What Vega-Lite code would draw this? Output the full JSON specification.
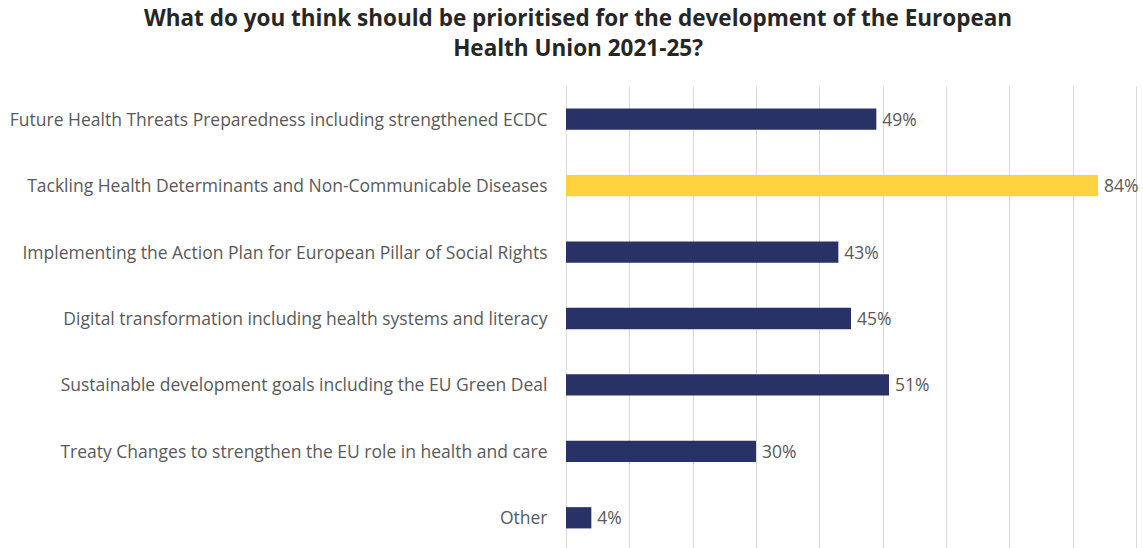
{
  "$schema": "https://vega.github.io/schema/vega-lite/v6.json",
  "width": 570,
  "height": 465,
  "autosize": "none",
  "padding": {"left": 566, "top": 86, "right": 7, "bottom": 0},
  "background": "white",
  "title": {
    "text": ["What do you think should be prioritised for the development of the European", "Health Union 2021-25?"],
    "font": "Open Sans",
    "fontSize": 22.5,
    "fontWeight": "bold",
    "color": "#262626",
    "anchor": "middle",
    "lineHeight": 30,
    "offset": 26,
    "dx": -273
  },
  "data": {
    "values": [
      {"category": "Future Health Threats Preparedness including strengthened ECDC", "pct": 49, "label": "49%"},
      {"category": "Tackling Health Determinants and Non-Communicable Diseases", "pct": 84, "label": "84%"},
      {"category": "Implementing the Action Plan for European Pillar of Social Rights", "pct": 43, "label": "43%"},
      {"category": "Digital transformation including health systems and literacy", "pct": 45, "label": "45%"},
      {"category": "Sustainable development goals including the EU Green Deal", "pct": 51, "label": "51%"},
      {"category": "Treaty Changes to strengthen the EU role in health and care", "pct": 30, "label": "30%"},
      {"category": "Other", "pct": 4, "label": "4%"}
    ]
  },
  "encoding": {
    "y": {
      "field": "category",
      "type": "nominal",
      "sort": null,
      "scale": {"paddingInner": 0.68, "paddingOuter": 0.34},
      "axis": {
        "title": null,
        "ticks": false,
        "domain": false,
        "labelFont": "Open Sans",
        "labelFontSize": 17.5,
        "labelColor": "#595959",
        "labelPadding": 19,
        "labelOffset": 1.5,
        "labelLimit": 700
      }
    },
    "x": {
      "field": "pct",
      "type": "quantitative",
      "scale": {"domain": [0, 90], "nice": false},
      "axis": {
        "title": null,
        "labels": false,
        "ticks": false,
        "domain": false,
        "grid": true,
        "gridColor": "#d9d9d9",
        "gridWidth": 1,
        "values": [0, 10, 20, 30, 40, 50, 60, 70, 80, 90]
      }
    }
  },
  "layer": [
    {
      "mark": {"type": "bar"},
      "encoding": {
        "color": {
          "condition": {"test": "datum.pct > 80", "value": "#FFD23F"},
          "value": "#283266"
        }
      }
    },
    {
      "mark": {"type": "text", "align": "left", "baseline": "middle", "dx": 6, "dy": 1.5, "font": "Open Sans", "fontSize": 17.5, "color": "#595959"},
      "encoding": {"text": {"field": "label"}}
    }
  ],
  "config": {"view": {"stroke": null}}
}
